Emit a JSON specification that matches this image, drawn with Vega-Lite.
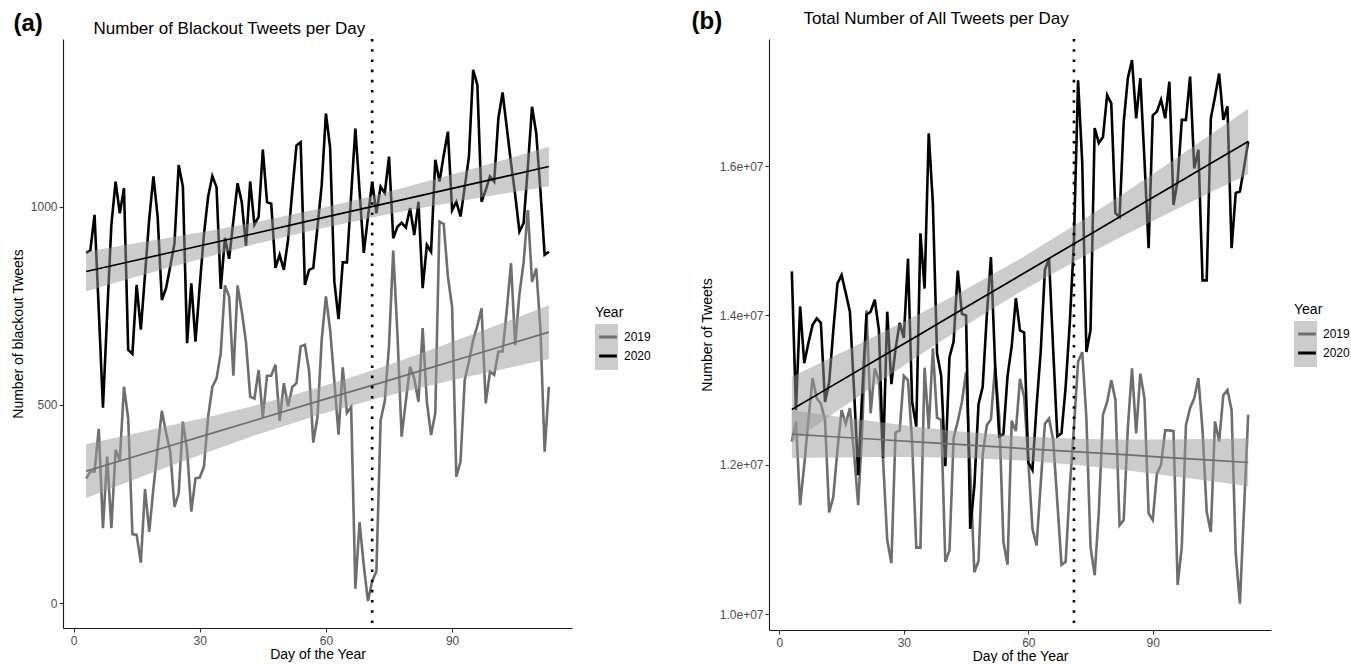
{
"$schema": "https://vega.github.io/schema/vega-lite/v6.json",
"padding": {"left": 11, "top": 9, "right": 2, "bottom": 0},
"spacing": 40,
"config": {
  "font": "Liberation Sans",
  "view": {"stroke": null},
  "axis": {"grid": false, "domainColor": "#1a1a1a", "domainWidth": 1.1, "tickColor": "#333333", "tickWidth": 1.1, "tickSize": 4, "labelColor": "#4d4d4d", "labelFontSize": 12, "titleFontSize": 14, "titleFontWeight": "normal", "titleColor": "#000000"},
  "axisLeft": {"labelPadding": 2, "titlePadding": 5},
  "axisBottom": {"labelPadding": 3, "titlePadding": 1},
  "legend": {"titleFontSize": 14, "titleFontWeight": "normal", "titleColor": "#000000", "labelFontSize": 12, "labelColor": "#000000", "rowPadding": 0, "padding": 0, "titlePadding": 4, "labelOffset": 3}
},
"datasets": {
"a_daily": [
{"day":3,"Year":"2019","value":314},{"day":4,"Year":"2019","value":332},{"day":5,"Year":"2019","value":332},{"day":6,"Year":"2019","value":440},{"day":7,"Year":"2019","value":189},{"day":8,"Year":"2019","value":370},{"day":9,"Year":"2019","value":189},{"day":10,"Year":"2019","value":387},{"day":11,"Year":"2019","value":360},{"day":12,"Year":"2019","value":546},{"day":13,"Year":"2019","value":466},{"day":14,"Year":"2019","value":174},{"day":15,"Year":"2019","value":172},{"day":16,"Year":"2019","value":102},{"day":17,"Year":"2019","value":288},{"day":18,"Year":"2019","value":180},{"day":19,"Year":"2019","value":290},{"day":20,"Year":"2019","value":390},{"day":21,"Year":"2019","value":485},{"day":22,"Year":"2019","value":430},{"day":23,"Year":"2019","value":382},{"day":24,"Year":"2019","value":243},{"day":25,"Year":"2019","value":277},{"day":26,"Year":"2019","value":458},{"day":27,"Year":"2019","value":386},{"day":28,"Year":"2019","value":231},{"day":29,"Year":"2019","value":315},{"day":30,"Year":"2019","value":317},{"day":31,"Year":"2019","value":344},{"day":32,"Year":"2019","value":470},{"day":33,"Year":"2019","value":546},{"day":34,"Year":"2019","value":567},{"day":35,"Year":"2019","value":631},{"day":36,"Year":"2019","value":802},{"day":37,"Year":"2019","value":774},{"day":38,"Year":"2019","value":574},{"day":39,"Year":"2019","value":802},{"day":40,"Year":"2019","value":736},{"day":41,"Year":"2019","value":659},{"day":42,"Year":"2019","value":521},{"day":43,"Year":"2019","value":516},{"day":44,"Year":"2019","value":588},{"day":45,"Year":"2019","value":469},{"day":46,"Year":"2019","value":574},{"day":47,"Year":"2019","value":574},{"day":48,"Year":"2019","value":602},{"day":49,"Year":"2019","value":460},{"day":50,"Year":"2019","value":555},{"day":51,"Year":"2019","value":497},{"day":52,"Year":"2019","value":545},{"day":53,"Year":"2019","value":555},{"day":54,"Year":"2019","value":648},{"day":55,"Year":"2019","value":652},{"day":56,"Year":"2019","value":586},{"day":57,"Year":"2019","value":405},{"day":58,"Year":"2019","value":470},{"day":59,"Year":"2019","value":665},{"day":60,"Year":"2019","value":774},{"day":61,"Year":"2019","value":690},{"day":62,"Year":"2019","value":560},{"day":63,"Year":"2019","value":425},{"day":64,"Year":"2019","value":595},{"day":65,"Year":"2019","value":480},{"day":66,"Year":"2019","value":495},{"day":67,"Year":"2019","value":36},{"day":68,"Year":"2019","value":204},{"day":69,"Year":"2019","value":95},{"day":70,"Year":"2019","value":5},{"day":71,"Year":"2019","value":55},{"day":72,"Year":"2019","value":80},{"day":73,"Year":"2019","value":461},{"day":74,"Year":"2019","value":510},{"day":75,"Year":"2019","value":650},{"day":76,"Year":"2019","value":890},{"day":77,"Year":"2019","value":680},{"day":78,"Year":"2019","value":420},{"day":79,"Year":"2019","value":510},{"day":80,"Year":"2019","value":597},{"day":81,"Year":"2019","value":567},{"day":82,"Year":"2019","value":508},{"day":83,"Year":"2019","value":694},{"day":84,"Year":"2019","value":508},{"day":85,"Year":"2019","value":424},{"day":86,"Year":"2019","value":479},{"day":87,"Year":"2019","value":963},{"day":88,"Year":"2019","value":957},{"day":89,"Year":"2019","value":824},{"day":90,"Year":"2019","value":748},{"day":91,"Year":"2019","value":319},{"day":92,"Year":"2019","value":357},{"day":93,"Year":"2019","value":563},{"day":94,"Year":"2019","value":610},{"day":95,"Year":"2019","value":664},{"day":96,"Year":"2019","value":700},{"day":97,"Year":"2019","value":744},{"day":98,"Year":"2019","value":504},{"day":99,"Year":"2019","value":584},{"day":100,"Year":"2019","value":576},{"day":101,"Year":"2019","value":635},{"day":102,"Year":"2019","value":635},{"day":103,"Year":"2019","value":740},{"day":104,"Year":"2019","value":858},{"day":105,"Year":"2019","value":651},{"day":106,"Year":"2019","value":780},{"day":107,"Year":"2019","value":860},{"day":108,"Year":"2019","value":992},{"day":109,"Year":"2019","value":811},{"day":110,"Year":"2019","value":845},{"day":111,"Year":"2019","value":690},{"day":112,"Year":"2019","value":382},{"day":113,"Year":"2019","value":546},
{"day":3,"Year":"2020","value":884},{"day":4,"Year":"2020","value":890},{"day":5,"Year":"2020","value":980},{"day":6,"Year":"2020","value":740},{"day":7,"Year":"2020","value":493},{"day":8,"Year":"2020","value":730},{"day":9,"Year":"2020","value":955},{"day":10,"Year":"2020","value":1064},{"day":11,"Year":"2020","value":984},{"day":12,"Year":"2020","value":1047},{"day":13,"Year":"2020","value":639},{"day":14,"Year":"2020","value":629},{"day":15,"Year":"2020","value":803},{"day":16,"Year":"2020","value":690},{"day":17,"Year":"2020","value":830},{"day":18,"Year":"2020","value":970},{"day":19,"Year":"2020","value":1077},{"day":20,"Year":"2020","value":975},{"day":21,"Year":"2020","value":765},{"day":22,"Year":"2020","value":795},{"day":23,"Year":"2020","value":850},{"day":24,"Year":"2020","value":908},{"day":25,"Year":"2020","value":1106},{"day":26,"Year":"2020","value":1051},{"day":27,"Year":"2020","value":656},{"day":28,"Year":"2020","value":807},{"day":29,"Year":"2020","value":660},{"day":30,"Year":"2020","value":800},{"day":31,"Year":"2020","value":930},{"day":32,"Year":"2020","value":1026},{"day":33,"Year":"2020","value":1078},{"day":34,"Year":"2020","value":1050},{"day":35,"Year":"2020","value":793},{"day":36,"Year":"2020","value":922},{"day":37,"Year":"2020","value":869},{"day":38,"Year":"2020","value":965},{"day":39,"Year":"2020","value":1060},{"day":40,"Year":"2020","value":1012},{"day":41,"Year":"2020","value":902},{"day":42,"Year":"2020","value":1064},{"day":43,"Year":"2020","value":955},{"day":44,"Year":"2020","value":975},{"day":45,"Year":"2020","value":1145},{"day":46,"Year":"2020","value":1012},{"day":47,"Year":"2020","value":1008},{"day":48,"Year":"2020","value":846},{"day":49,"Year":"2020","value":879},{"day":50,"Year":"2020","value":841},{"day":51,"Year":"2020","value":917},{"day":52,"Year":"2020","value":1040},{"day":53,"Year":"2020","value":1155},{"day":54,"Year":"2020","value":1163},{"day":55,"Year":"2020","value":803},{"day":56,"Year":"2020","value":841},{"day":57,"Year":"2020","value":846},{"day":58,"Year":"2020","value":950},{"day":59,"Year":"2020","value":1055},{"day":60,"Year":"2020","value":1236},{"day":61,"Year":"2020","value":1150},{"day":62,"Year":"2020","value":812},{"day":63,"Year":"2020","value":717},{"day":64,"Year":"2020","value":860},{"day":65,"Year":"2020","value":860},{"day":66,"Year":"2020","value":1030},{"day":67,"Year":"2020","value":1198},{"day":68,"Year":"2020","value":1040},{"day":69,"Year":"2020","value":884},{"day":70,"Year":"2020","value":975},{"day":71,"Year":"2020","value":1064},{"day":72,"Year":"2020","value":984},{"day":73,"Year":"2020","value":1051},{"day":74,"Year":"2020","value":1035},{"day":75,"Year":"2020","value":1127},{"day":76,"Year":"2020","value":921},{"day":77,"Year":"2020","value":950},{"day":78,"Year":"2020","value":960},{"day":79,"Year":"2020","value":948},{"day":80,"Year":"2020","value":997},{"day":81,"Year":"2020","value":929},{"day":82,"Year":"2020","value":1013},{"day":83,"Year":"2020","value":795},{"day":84,"Year":"2020","value":904},{"day":85,"Year":"2020","value":887},{"day":86,"Year":"2020","value":1119},{"day":87,"Year":"2020","value":1064},{"day":88,"Year":"2020","value":1130},{"day":89,"Year":"2020","value":1190},{"day":90,"Year":"2020","value":992},{"day":91,"Year":"2020","value":1013},{"day":92,"Year":"2020","value":976},{"day":93,"Year":"2020","value":1050},{"day":94,"Year":"2020","value":1127},{"day":95,"Year":"2020","value":1346},{"day":96,"Year":"2020","value":1308},{"day":97,"Year":"2020","value":1013},{"day":98,"Year":"2020","value":1043},{"day":99,"Year":"2020","value":1077},{"day":100,"Year":"2020","value":1064},{"day":101,"Year":"2020","value":1224},{"day":102,"Year":"2020","value":1289},{"day":103,"Year":"2020","value":1200},{"day":104,"Year":"2020","value":1111},{"day":105,"Year":"2020","value":1030},{"day":106,"Year":"2020","value":938},{"day":107,"Year":"2020","value":959},{"day":108,"Year":"2020","value":1100},{"day":109,"Year":"2020","value":1253},{"day":110,"Year":"2020","value":1186},{"day":111,"Year":"2020","value":1040},{"day":112,"Year":"2020","value":879},{"day":113,"Year":"2020","value":887}
],
"a_fit": [
{"day":3,"Year":"2019","Band":"2019 band","fit":333,"lo":265,"hi":401},{"day":13,"Year":"2019","Band":"2019 band","fit":365,"lo":306,"hi":424},{"day":23,"Year":"2019","Band":"2019 band","fit":397,"lo":346,"hi":448},{"day":33,"Year":"2019","Band":"2019 band","fit":429,"lo":385,"hi":472},{"day":43,"Year":"2019","Band":"2019 band","fit":461,"lo":423,"hi":498},{"day":58,"Year":"2019","Band":"2019 band","fit":509,"lo":474,"hi":543},{"day":73,"Year":"2019","Band":"2019 band","fit":556,"lo":519,"hi":594},{"day":83,"Year":"2019","Band":"2019 band","fit":588,"lo":545,"hi":632},{"day":93,"Year":"2019","Band":"2019 band","fit":620,"lo":570,"hi":671},{"day":103,"Year":"2019","Band":"2019 band","fit":652,"lo":593,"hi":711},{"day":113,"Year":"2019","Band":"2019 band","fit":684,"lo":616,"hi":752},
{"day":3,"Year":"2020","Band":"2020 band","fit":837,"lo":787,"hi":887},{"day":13,"Year":"2020","Band":"2020 band","fit":861,"lo":818,"hi":905},{"day":23,"Year":"2020","Band":"2020 band","fit":885,"lo":848,"hi":923},{"day":33,"Year":"2020","Band":"2020 band","fit":909,"lo":877,"hi":941},{"day":43,"Year":"2020","Band":"2020 band","fit":933,"lo":906,"hi":961},{"day":58,"Year":"2020","Band":"2020 band","fit":970,"lo":944,"hi":995},{"day":73,"Year":"2020","Band":"2020 band","fit":1006,"lo":978,"hi":1033},{"day":83,"Year":"2020","Band":"2020 band","fit":1030,"lo":998,"hi":1062},{"day":93,"Year":"2020","Band":"2020 band","fit":1054,"lo":1017,"hi":1091},{"day":103,"Year":"2020","Band":"2020 band","fit":1078,"lo":1035,"hi":1121},{"day":113,"Year":"2020","Band":"2020 band","fit":1102,"lo":1052,"hi":1152}
],
"b_daily": [
{"day":3,"Year":"2019","value":12310000},{"day":4,"Year":"2019","value":12580000},{"day":5,"Year":"2019","value":11460000},{"day":6,"Year":"2019","value":12000000},{"day":7,"Year":"2019","value":12600000},{"day":8,"Year":"2019","value":13160000},{"day":9,"Year":"2019","value":12890000},{"day":10,"Year":"2019","value":12820000},{"day":11,"Year":"2019","value":12600000},{"day":12,"Year":"2019","value":11360000},{"day":13,"Year":"2019","value":11570000},{"day":14,"Year":"2019","value":12200000},{"day":15,"Year":"2019","value":12730000},{"day":16,"Year":"2019","value":12550000},{"day":17,"Year":"2019","value":12760000},{"day":18,"Year":"2019","value":12150000},{"day":19,"Year":"2019","value":11460000},{"day":20,"Year":"2019","value":12510000},{"day":21,"Year":"2019","value":14070000},{"day":22,"Year":"2019","value":12690000},{"day":23,"Year":"2019","value":13290000},{"day":24,"Year":"2019","value":13130000},{"day":25,"Year":"2019","value":12060000},{"day":26,"Year":"2019","value":10990000},{"day":27,"Year":"2019","value":10680000},{"day":28,"Year":"2019","value":12430000},{"day":29,"Year":"2019","value":12460000},{"day":30,"Year":"2019","value":13190000},{"day":31,"Year":"2019","value":13130000},{"day":32,"Year":"2019","value":12300000},{"day":33,"Year":"2019","value":10890000},{"day":34,"Year":"2019","value":10890000},{"day":35,"Year":"2019","value":13300000},{"day":36,"Year":"2019","value":12480000},{"day":37,"Year":"2019","value":13560000},{"day":38,"Year":"2019","value":12630000},{"day":39,"Year":"2019","value":12600000},{"day":40,"Year":"2019","value":10700000},{"day":41,"Year":"2019","value":10850000},{"day":42,"Year":"2019","value":12360000},{"day":43,"Year":"2019","value":12580000},{"day":44,"Year":"2019","value":12840000},{"day":45,"Year":"2019","value":13240000},{"day":46,"Year":"2019","value":11930000},{"day":47,"Year":"2019","value":10560000},{"day":48,"Year":"2019","value":10710000},{"day":49,"Year":"2019","value":12130000},{"day":50,"Year":"2019","value":12530000},{"day":51,"Year":"2019","value":12610000},{"day":52,"Year":"2019","value":13320000},{"day":53,"Year":"2019","value":12630000},{"day":54,"Year":"2019","value":10970000},{"day":55,"Year":"2019","value":10660000},{"day":56,"Year":"2019","value":12590000},{"day":57,"Year":"2019","value":12450000},{"day":58,"Year":"2019","value":13150000},{"day":59,"Year":"2019","value":12900000},{"day":60,"Year":"2019","value":12060000},{"day":61,"Year":"2019","value":11140000},{"day":62,"Year":"2019","value":10920000},{"day":63,"Year":"2019","value":11750000},{"day":64,"Year":"2019","value":12550000},{"day":65,"Year":"2019","value":12620000},{"day":66,"Year":"2019","value":12330000},{"day":67,"Year":"2019","value":11500000},{"day":68,"Year":"2019","value":10660000},{"day":69,"Year":"2019","value":10700000},{"day":70,"Year":"2019","value":11700000},{"day":71,"Year":"2019","value":12500000},{"day":72,"Year":"2019","value":13380000},{"day":73,"Year":"2019","value":13510000},{"day":74,"Year":"2019","value":12630000},{"day":75,"Year":"2019","value":10900000},{"day":76,"Year":"2019","value":10520000},{"day":77,"Year":"2019","value":11370000},{"day":78,"Year":"2019","value":12670000},{"day":79,"Year":"2019","value":12840000},{"day":80,"Year":"2019","value":13130000},{"day":81,"Year":"2019","value":12870000},{"day":82,"Year":"2019","value":11190000},{"day":83,"Year":"2019","value":11260000},{"day":84,"Year":"2019","value":12500000},{"day":85,"Year":"2019","value":13290000},{"day":86,"Year":"2019","value":12420000},{"day":87,"Year":"2019","value":13220000},{"day":88,"Year":"2019","value":12890000},{"day":89,"Year":"2019","value":11350000},{"day":90,"Year":"2019","value":11260000},{"day":91,"Year":"2019","value":11880000},{"day":92,"Year":"2019","value":12000000},{"day":93,"Year":"2019","value":12460000},{"day":94,"Year":"2019","value":12460000},{"day":95,"Year":"2019","value":12450000},{"day":96,"Year":"2019","value":10390000},{"day":97,"Year":"2019","value":10900000},{"day":98,"Year":"2019","value":12530000},{"day":99,"Year":"2019","value":12760000},{"day":100,"Year":"2019","value":12890000},{"day":101,"Year":"2019","value":13160000},{"day":102,"Year":"2019","value":12460000},{"day":103,"Year":"2019","value":11370000},{"day":104,"Year":"2019","value":11100000},{"day":105,"Year":"2019","value":12580000},{"day":106,"Year":"2019","value":12310000},{"day":107,"Year":"2019","value":12930000},{"day":108,"Year":"2019","value":13000000},{"day":109,"Year":"2019","value":12730000},{"day":110,"Year":"2019","value":10810000},{"day":111,"Year":"2019","value":10140000},{"day":112,"Year":"2019","value":11400000},{"day":113,"Year":"2019","value":12670000},
{"day":3,"Year":"2020","value":14590000},{"day":4,"Year":"2020","value":12730000},{"day":5,"Year":"2020","value":14120000},{"day":6,"Year":"2020","value":13360000},{"day":7,"Year":"2020","value":13630000},{"day":8,"Year":"2020","value":13870000},{"day":9,"Year":"2020","value":13960000},{"day":10,"Year":"2020","value":13900000},{"day":11,"Year":"2020","value":12840000},{"day":12,"Year":"2020","value":13100000},{"day":13,"Year":"2020","value":13800000},{"day":14,"Year":"2020","value":14430000},{"day":15,"Year":"2020","value":14540000},{"day":16,"Year":"2020","value":14300000},{"day":17,"Year":"2020","value":14050000},{"day":18,"Year":"2020","value":13000000},{"day":19,"Year":"2020","value":11860000},{"day":20,"Year":"2020","value":13000000},{"day":21,"Year":"2020","value":14010000},{"day":22,"Year":"2020","value":14050000},{"day":23,"Year":"2020","value":14210000},{"day":24,"Year":"2020","value":13800000},{"day":25,"Year":"2020","value":12090000},{"day":26,"Year":"2020","value":14050000},{"day":27,"Year":"2020","value":13080000},{"day":28,"Year":"2020","value":13550000},{"day":29,"Year":"2020","value":13900000},{"day":30,"Year":"2020","value":13700000},{"day":31,"Year":"2020","value":14760000},{"day":32,"Year":"2020","value":12840000},{"day":33,"Year":"2020","value":12510000},{"day":34,"Year":"2020","value":15100000},{"day":35,"Year":"2020","value":14360000},{"day":36,"Year":"2020","value":16440000},{"day":37,"Year":"2020","value":15500000},{"day":38,"Year":"2020","value":13490000},{"day":39,"Year":"2020","value":13190000},{"day":40,"Year":"2020","value":11980000},{"day":41,"Year":"2020","value":13440000},{"day":42,"Year":"2020","value":13650000},{"day":43,"Year":"2020","value":14600000},{"day":44,"Year":"2020","value":14020000},{"day":45,"Year":"2020","value":14000000},{"day":46,"Year":"2020","value":11140000},{"day":47,"Year":"2020","value":11720000},{"day":48,"Year":"2020","value":12810000},{"day":49,"Year":"2020","value":13040000},{"day":50,"Year":"2020","value":14000000},{"day":51,"Year":"2020","value":14780000},{"day":52,"Year":"2020","value":13340000},{"day":53,"Year":"2020","value":12380000},{"day":54,"Year":"2020","value":12410000},{"day":55,"Year":"2020","value":13190000},{"day":56,"Year":"2020","value":13590000},{"day":57,"Year":"2020","value":14230000},{"day":58,"Year":"2020","value":13800000},{"day":59,"Year":"2020","value":13770000},{"day":60,"Year":"2020","value":12030000},{"day":61,"Year":"2020","value":11930000},{"day":62,"Year":"2020","value":12790000},{"day":63,"Year":"2020","value":13520000},{"day":64,"Year":"2020","value":14610000},{"day":65,"Year":"2020","value":14760000},{"day":66,"Year":"2020","value":13540000},{"day":67,"Year":"2020","value":12380000},{"day":68,"Year":"2020","value":12420000},{"day":69,"Year":"2020","value":13040000},{"day":70,"Year":"2020","value":13900000},{"day":71,"Year":"2020","value":15000000},{"day":72,"Year":"2020","value":17150000},{"day":73,"Year":"2020","value":16050000},{"day":74,"Year":"2020","value":13510000},{"day":75,"Year":"2020","value":13800000},{"day":76,"Year":"2020","value":16510000},{"day":77,"Year":"2020","value":16310000},{"day":78,"Year":"2020","value":16390000},{"day":79,"Year":"2020","value":16950000},{"day":80,"Year":"2020","value":16840000},{"day":81,"Year":"2020","value":15370000},{"day":82,"Year":"2020","value":15320000},{"day":83,"Year":"2020","value":16590000},{"day":84,"Year":"2020","value":17180000},{"day":85,"Year":"2020","value":17420000},{"day":86,"Year":"2020","value":16640000},{"day":87,"Year":"2020","value":17180000},{"day":88,"Year":"2020","value":16080000},{"day":89,"Year":"2020","value":14900000},{"day":90,"Year":"2020","value":16680000},{"day":91,"Year":"2020","value":16730000},{"day":92,"Year":"2020","value":16890000},{"day":93,"Year":"2020","value":16640000},{"day":94,"Year":"2020","value":17130000},{"day":95,"Year":"2020","value":15480000},{"day":96,"Year":"2020","value":15810000},{"day":97,"Year":"2020","value":16620000},{"day":98,"Year":"2020","value":16620000},{"day":99,"Year":"2020","value":17200000},{"day":100,"Year":"2020","value":15970000},{"day":101,"Year":"2020","value":16220000},{"day":102,"Year":"2020","value":14470000},{"day":103,"Year":"2020","value":14470000},{"day":104,"Year":"2020","value":16640000},{"day":105,"Year":"2020","value":16930000},{"day":106,"Year":"2020","value":17240000},{"day":107,"Year":"2020","value":16620000},{"day":108,"Year":"2020","value":16800000},{"day":109,"Year":"2020","value":14900000},{"day":110,"Year":"2020","value":15640000},{"day":111,"Year":"2020","value":15660000},{"day":112,"Year":"2020","value":15980000},{"day":113,"Year":"2020","value":16330000}
],
"b_fit": [
{"day":3,"Year":"2019","Band":"2019 band","fit":12410000,"lo":12090000,"hi":12730000},{"day":13,"Year":"2019","Band":"2019 band","fit":12375000,"lo":12097000,"hi":12653000},{"day":23,"Year":"2019","Band":"2019 band","fit":12341000,"lo":12102000,"hi":12580000},{"day":33,"Year":"2019","Band":"2019 band","fit":12306000,"lo":12102000,"hi":12510000},{"day":43,"Year":"2019","Band":"2019 band","fit":12272000,"lo":12094000,"hi":12450000},{"day":58,"Year":"2019","Band":"2019 band","fit":12220000,"lo":12059000,"hi":12381000},{"day":73,"Year":"2019","Band":"2019 band","fit":12168000,"lo":11990000,"hi":12346000},{"day":83,"Year":"2019","Band":"2019 band","fit":12134000,"lo":11930000,"hi":12338000},{"day":93,"Year":"2019","Band":"2019 band","fit":12099000,"lo":11860000,"hi":12338000},{"day":103,"Year":"2019","Band":"2019 band","fit":12065000,"lo":11787000,"hi":12343000},{"day":113,"Year":"2019","Band":"2019 band","fit":12030000,"lo":11710000,"hi":12350000},
{"day":3,"Year":"2020","Band":"2020 band","fit":12740000,"lo":12300000,"hi":13180000},{"day":13,"Year":"2020","Band":"2020 band","fit":13066000,"lo":12684000,"hi":13448000},{"day":23,"Year":"2020","Band":"2020 band","fit":13393000,"lo":13065000,"hi":13721000},{"day":33,"Year":"2020","Band":"2020 band","fit":13719000,"lo":13438000,"hi":14000000},{"day":43,"Year":"2020","Band":"2020 band","fit":14045000,"lo":13800000,"hi":14290000},{"day":58,"Year":"2020","Band":"2020 band","fit":14535000,"lo":14314000,"hi":14756000},{"day":73,"Year":"2020","Band":"2020 band","fit":15025000,"lo":14780000,"hi":15270000},{"day":83,"Year":"2020","Band":"2020 band","fit":15351000,"lo":15070000,"hi":15632000},{"day":93,"Year":"2020","Band":"2020 band","fit":15677000,"lo":15349000,"hi":16005000},{"day":103,"Year":"2020","Band":"2020 band","fit":16004000,"lo":15622000,"hi":16386000},{"day":113,"Year":"2020","Band":"2020 band","fit":16330000,"lo":15890000,"hi":16770000}
],
"vline": [{"day": 71}]
},
"resolve": {"scale": {"x": "independent", "y": "independent", "stroke": "independent", "fill": "independent"}, "legend": {"stroke": "independent", "fill": "independent"}},
"hconcat": [
{
  "width": 509, "height": 589,
  "layer": [
    {
      "data": {"name": "a_daily"},
      "mark": {"type": "line", "strokeWidth": 2.6},
      "encoding": {
        "x": {"field": "day", "type": "quantitative", "scale": {"domain": [-2.5, 118.5], "nice": false, "zero": false}, "axis": {"orient": "bottom", "values": [0, 30, 60, 90], "title": "Day of the Year"}},
        "y": {"field": "value", "type": "quantitative", "scale": {"domain": [-63, 1424], "nice": false, "zero": false}, "axis": {"orient": "left", "values": [0, 500, 1000], "format": "d", "title": "Number of blackout Tweets"}},
        "stroke": {"field": "Year", "type": "nominal", "scale": {"domain": ["2019", "2020"], "range": ["#6e6e6e", "#000000"]}, "legend": {"orient": "none", "legendX": 532, "legendY": 267, "title": "Year", "symbolType": "M-0.77,0H0.77", "symbolSize": 529, "symbolStrokeWidth": 3, "symbolFillColor": "transparent", "zindex": 2}}
      }
    },
    {
      "data": {"name": "a_fit"},
      "mark": {"type": "area", "opacity": 0.5},
      "encoding": {
        "x": {"field": "day", "type": "quantitative", "axis": null},
        "y": {"field": "lo", "type": "quantitative", "axis": null},
        "y2": {"field": "hi"},
        "fill": {"field": "Band", "type": "nominal", "scale": {"domain": ["2019 band", "2020 band"], "range": ["#999999", "#999999"]}, "legend": {"orient": "none", "legendX": 532, "legendY": 267, "title": "Year", "titleOpacity": 0, "labelOpacity": 0, "labelExpr": "''", "symbolType": "square", "symbolSize": 529, "symbolStrokeWidth": 0, "symbolOpacity": 0.5, "zindex": 1}}
      }
    },
    {
      "data": {"name": "a_fit"},
      "mark": {"type": "line", "strokeWidth": 1.7},
      "encoding": {
        "x": {"field": "day", "type": "quantitative", "axis": null},
        "y": {"field": "fit", "type": "quantitative", "axis": {"orient": "right", "title": "(a)", "labels": false, "ticks": false, "domain": false, "minExtent": 0, "maxExtent": 2000, "titleAngle": 0, "titleFontSize": 24, "titleFontWeight": "bold", "titleAlign": "left", "titleBaseline": "alphabetic", "titleX": -559, "titleY": -8.5}},
        "stroke": {"field": "Year", "type": "nominal"}
      }
    },
    {
      "data": {"name": "vline"},
      "mark": {"type": "rule", "color": "#000000", "strokeWidth": 2.6, "strokeDash": [2.6, 7.6]},
      "encoding": {
        "x": {"field": "day", "type": "quantitative", "axis": {"orient": "top", "title": "Number of Blackout Tweets per Day", "labels": false, "ticks": false, "domain": false, "minExtent": 0, "maxExtent": 2000, "titleFontSize": 17, "titleAlign": "left", "titleBaseline": "alphabetic", "titleX": 30, "titleY": -5.7}}
      }
    }
  ]
},
{
  "width": 502, "height": 591,
  "layer": [
    {
      "data": {"name": "b_daily"},
      "mark": {"type": "line", "strokeWidth": 2.6},
      "encoding": {
        "x": {"field": "day", "type": "quantitative", "scale": {"domain": [-2.5, 118.5], "nice": false, "zero": false}, "axis": {"orient": "bottom", "values": [0, 30, 60, 90], "title": "Day of the Year"}},
        "y": {"field": "value", "type": "quantitative", "scale": {"domain": [9786000, 17702700], "nice": false, "zero": false}, "axis": {"orient": "left", "values": [10000000, 12000000, 14000000, 16000000], "labelExpr": "format(datum.value / 10000000, '.1f') + 'e+07'", "title": "Number of Tweets"}},
        "stroke": {"field": "Year", "type": "nominal", "scale": {"domain": ["2019", "2020"], "range": ["#6e6e6e", "#000000"]}, "legend": {"orient": "none", "legendX": 525, "legendY": 264, "title": "Year", "symbolType": "M-0.77,0H0.77", "symbolSize": 529, "symbolStrokeWidth": 3, "symbolFillColor": "transparent", "zindex": 2}}
      }
    },
    {
      "data": {"name": "b_fit"},
      "mark": {"type": "area", "opacity": 0.5},
      "encoding": {
        "x": {"field": "day", "type": "quantitative", "axis": null},
        "y": {"field": "lo", "type": "quantitative", "axis": null},
        "y2": {"field": "hi"},
        "fill": {"field": "Band", "type": "nominal", "scale": {"domain": ["2019 band", "2020 band"], "range": ["#999999", "#999999"]}, "legend": {"orient": "none", "legendX": 525, "legendY": 264, "title": "Year", "titleOpacity": 0, "labelOpacity": 0, "labelExpr": "''", "symbolType": "square", "symbolSize": 529, "symbolStrokeWidth": 0, "symbolOpacity": 0.5, "zindex": 1}}
      }
    },
    {
      "data": {"name": "b_fit"},
      "mark": {"type": "line", "strokeWidth": 1.7},
      "encoding": {
        "x": {"field": "day", "type": "quantitative", "axis": null},
        "y": {"field": "fit", "type": "quantitative", "axis": {"orient": "right", "title": "(b)", "labels": false, "ticks": false, "domain": false, "minExtent": 0, "maxExtent": 2000, "titleAngle": 0, "titleFontSize": 24, "titleFontWeight": "bold", "titleAlign": "left", "titleBaseline": "alphabetic", "titleX": -580, "titleY": -11}},
        "stroke": {"field": "Year", "type": "nominal"}
      }
    },
    {
      "data": {"name": "vline"},
      "mark": {"type": "rule", "color": "#000000", "strokeWidth": 2.6, "strokeDash": [2.6, 7.6]},
      "encoding": {
        "x": {"field": "day", "type": "quantitative", "axis": {"orient": "top", "title": "Total Number of All Tweets per Day", "labels": false, "ticks": false, "domain": false, "minExtent": 0, "maxExtent": 2000, "titleFontSize": 17, "titleAlign": "left", "titleBaseline": "alphabetic", "titleX": 34, "titleY": -15.5}}
      }
    }
  ]
}
]
}
